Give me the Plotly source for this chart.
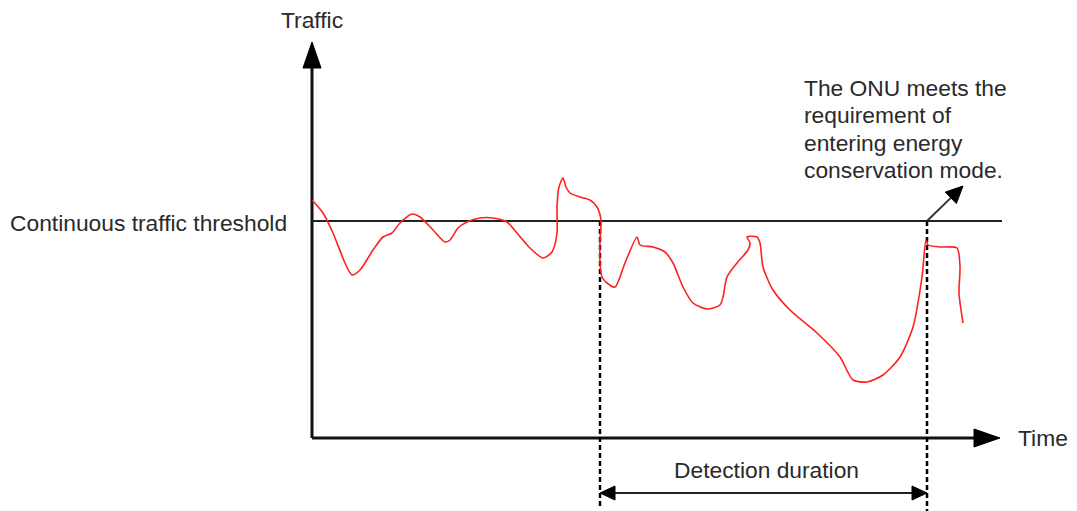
import plotly.graph_objects as go
import math

# ---- data (time units / traffic units; origin at axis crossing) ----
time_vals = [0, 11, 21, 33, 40, 48, 61, 71, 80, 88, 100, 108, 121, 133, 138, 146, 155, 168, 181, 195,
             205, 218, 231, 240, 245, 245, 247, 251, 254, 258, 268, 278, 285, 289, 288, 288, 290, 295,
             303, 313, 325, 328, 341, 353, 361, 371, 381, 395, 408, 411, 415, 425, 436, 438, 435, 445,
             448, 451, 461, 478, 505, 528, 541, 555, 571, 588, 601, 610, 614, 616, 628, 645, 648, 647, 651]
traffic_vals = [238, 225, 205, 175, 163, 168, 188, 201, 205, 215, 224, 221, 208, 196, 198, 210, 216, 220, 220, 216,
                205, 190, 180, 186, 205, 231, 251, 260, 251, 245, 241, 238, 231, 218, 198, 175, 161, 155,
                151, 175, 201, 193, 191, 186, 175, 151, 135, 129, 133, 141, 161, 175, 188, 195, 201, 201,
                195, 171, 148, 128, 105, 81, 58, 56, 63, 81, 111, 161, 198, 193, 191, 190, 171, 145, 115]

threshold = 217
detect_start = 288
detect_end = 615
x_axis_end = 688
y_axis_end = 396

ylabel = "Traffic"
xlabel = "Time"
threshold_label = "Continuous traffic threshold"
duration_label = "Detection duration"
note_lines = ["The ONU meets the", "requirement of", "entering energy", "conservation mode."]
note_line_y = [350, 323, 295, 268]

FONT = "Liberation Sans, Arial, sans-serif"
TXT = "#2a2a2a"

fig = go.Figure()

fig.add_trace(go.Scatter(x=time_vals, y=traffic_vals, mode="lines",
                         line=dict(color="#ff2020", width=1.6, shape="spline", smoothing=0.7),
                         hoverinfo="skip", showlegend=False))


def tri(tip, direction, length, half):
    dx, dy = direction
    n = math.hypot(dx, dy)
    ux, uy = dx / n, dy / n
    bx, by = tip[0] - ux * length, tip[1] - uy * length
    px, py = -uy * half, ux * half
    return (f"M {tip[0]} {tip[1]} L {bx + px} {by + py} L {bx - px} {by - py} Z", (bx, by))


shapes = []
# axes
head_len, head_half = 26, 9
p, base = tri((0, y_axis_end), (0, 1), head_len, head_half)
shapes.append(dict(type="line", x0=0, y0=0, x1=0, y1=base[1] + 1, line=dict(color="#111", width=3)))
shapes.append(dict(type="path", path=p, fillcolor="#000", line=dict(color="#000", width=1)))
p, base = tri((x_axis_end, 0), (1, 0), head_len, head_half)
shapes.append(dict(type="line", x0=0, y0=0, x1=base[0] + 1, y1=0, line=dict(color="#111", width=3)))
shapes.append(dict(type="path", path=p, fillcolor="#000", line=dict(color="#000", width=1)))

# threshold line
shapes.append(dict(type="line", x0=0, y0=threshold, x1=690, y1=threshold, line=dict(color="#222", width=1.8)))

# dashed verticals
shapes.append(dict(type="line", x0=detect_start, y0=threshold, x1=detect_start, y1=-70,
                   line=dict(color="#000", width=2.5, dash="5px,3px")))
shapes.append(dict(type="line", x0=detect_end, y0=threshold, x1=detect_end, y1=-75,
                   line=dict(color="#000", width=2.5, dash="5px,3px")))

# detection duration double arrow
arr_y = -55
p1, b1 = tri((detect_start, arr_y), (-1, 0), 15, 7)
p2, b2 = tri((detect_end, arr_y), (1, 0), 15, 7)
shapes.append(dict(type="line", x0=b1[0], y0=arr_y, x1=b2[0], y1=arr_y, line=dict(color="#222", width=2)))
shapes.append(dict(type="path", path=p1, fillcolor="#000", line=dict(color="#000", width=1)))
shapes.append(dict(type="path", path=p2, fillcolor="#000", line=dict(color="#000", width=1)))

# note arrow
tip = (detect_end + 36, threshold + 35)
p3, b3 = tri(tip, (36, 35), 17, 8)
shapes.append(dict(type="line", x0=detect_end, y0=threshold, x1=b3[0], y1=b3[1], line=dict(color="#333", width=2)))
shapes.append(dict(type="path", path=p3, fillcolor="#000", line=dict(color="#000", width=1)))

for s in shapes:
    s.setdefault("xref", "x")
    s.setdefault("yref", "y")
    s["layer"] = "above" if s["type"] == "path" else "below"

fs = 22.8
ann = [
    dict(x=0, y=418, text=ylabel, xanchor="center", yanchor="middle"),
    dict(x=704, y=0, text=xlabel, xanchor="left", yanchor="middle"),
    dict(x=-23, y=215, text=threshold_label, xanchor="right", yanchor="middle"),
    dict(x=454, y=-32, text=duration_label, xanchor="center", yanchor="middle"),
]
for line_text, ly in zip(note_lines, note_line_y):
    ann.append(dict(x=490, y=ly, text=line_text, xanchor="left", yanchor="middle"))
for a in ann:
    a.update(xref="x", yref="y", showarrow=False, font=dict(family=FONT, size=fs, color=TXT))

# page body has an 8px margin: size figure and ranges so 1 unit = 1 px, origin at page (312, 438)
fig.update_layout(
    width=1069, height=503,
    margin=dict(l=0, r=0, t=0, b=0),
    paper_bgcolor="white", plot_bgcolor="white",
    xaxis=dict(range=[-304, 765], visible=False, fixedrange=True),
    yaxis=dict(range=[-73, 430], visible=False, fixedrange=True),
    shapes=shapes, annotations=ann, showlegend=False,
)

fig.write_html("out.html")
